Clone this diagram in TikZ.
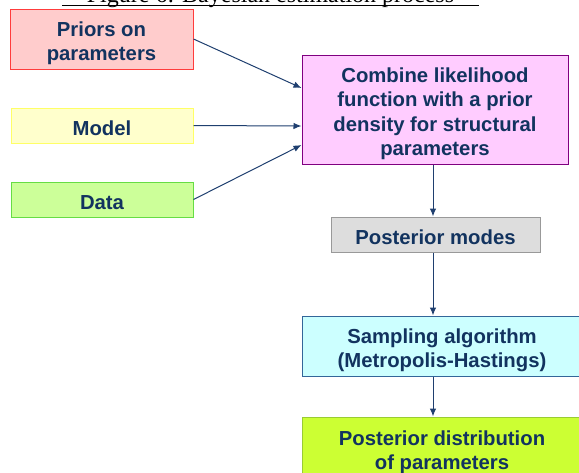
\documentclass[tikz,border=0pt]{standalone}
\usepackage{fontspec}
\setmainfont{Liberation Sans}
\newfontfamily\titlefont{Liberation Serif}
\usetikzlibrary{arrows.meta}
\definecolor{txt}{HTML}{12335F}
\definecolor{arr}{HTML}{1F3F6F}
\newcommand\topstrut{\rule{0pt}{1.15em}}
\tikzset{
  box/.style={rectangle, line width=1pt, align=center, text=txt,
    font=\bfseries\fontsize{20.3}{24.5}\selectfont, inner sep=0pt,
    execute at begin node={\topstrut},
    execute at end node={\rule[-0.212em]{0pt}{0.212em}}},
  conn/.style={draw=arr, line width=1pt, -{Latex[length=8pt,width=6.5pt]}}
}
\begin{document}
\begin{tikzpicture}[x=1pt,y=-1pt]
\useasboundingbox (0,0) rectangle (579,472);
\clip (0,0) rectangle (579,472);
% title (cut off at top)
\node[anchor=base, text=black, inner sep=0pt, font=\titlefont\fontsize{24}{28}\selectfont] (title) at (270.5,2) {Figure 6: Bayesian estimation process};
\coordinate (ul1) at (62,5.5);
\coordinate (ul2) at (479,5.5);
\draw[line width=1.5pt] (ul1) -- (ul2);
% boxes
\node[box, fill={rgb,255:red,255;green,204;blue,204}, draw={rgb,255:red,255;green,60;blue,60},
  minimum width=183pt, minimum height=60pt] (priors) at (101.5,39) {\topstrut Priors on\\parameters};
\node[box, fill={rgb,255:red,255;green,204;blue,255}, draw={rgb,255:red,128;green,0;blue,128},
  minimum width=266pt, minimum height=109pt] (combine) at (435,109.5) {\topstrut Combine likelihood\\function with a prior\\density for structural\\parameters};
\node[box, fill={rgb,255:red,255;green,255;blue,204}, draw={rgb,255:red,255;green,255;blue,102},
  minimum width=182pt, minimum height=35pt] (model) at (102,125.5) {Model};
\node[box, fill={rgb,255:red,204;green,255;blue,153}, draw={rgb,255:red,102;green,221;blue,68},
  minimum width=182pt, minimum height=35pt] (data) at (102,199.5) {Data};
\node[box, fill={rgb,255:red,221;green,221;blue,221}, draw={rgb,255:red,153;green,153;blue,153},
  minimum width=209pt, minimum height=35pt] (modes) at (435.5,234.5) {Posterior modes};
\node[box, fill={rgb,255:red,204;green,255;blue,255}, draw={rgb,255:red,51;green,102;blue,153},
  minimum width=280pt, minimum height=60pt] (sampling) at (442,346) {\topstrut Sampling algorithm\\(Metropolis-Hastings)};
\node[box, fill={rgb,255:red,204;green,255;blue,51}, draw={rgb,255:red,153;green,204;blue,51},
  minimum width=280pt, minimum height=62pt] (post) at (442,448) {\topstrut Posterior distribution\\of parameters};
% connectors
\coordinate (ax) at (433,0);
\draw[conn] (priors.east) -- ([yshift=21.5pt]combine.west);
\draw[conn] (model.east) -- ([yshift=-16.5pt]combine.west);
\draw[conn] (data.east) -- ([yshift=-35.5pt]combine.west);
\draw[conn] (combine.south -| ax) -- (modes.north -| ax);
\draw[conn] (modes.south -| ax) -- (sampling.north -| ax);
\draw[conn] (sampling.south -| ax) -- (post.north -| ax);
\end{tikzpicture}
\end{document}
